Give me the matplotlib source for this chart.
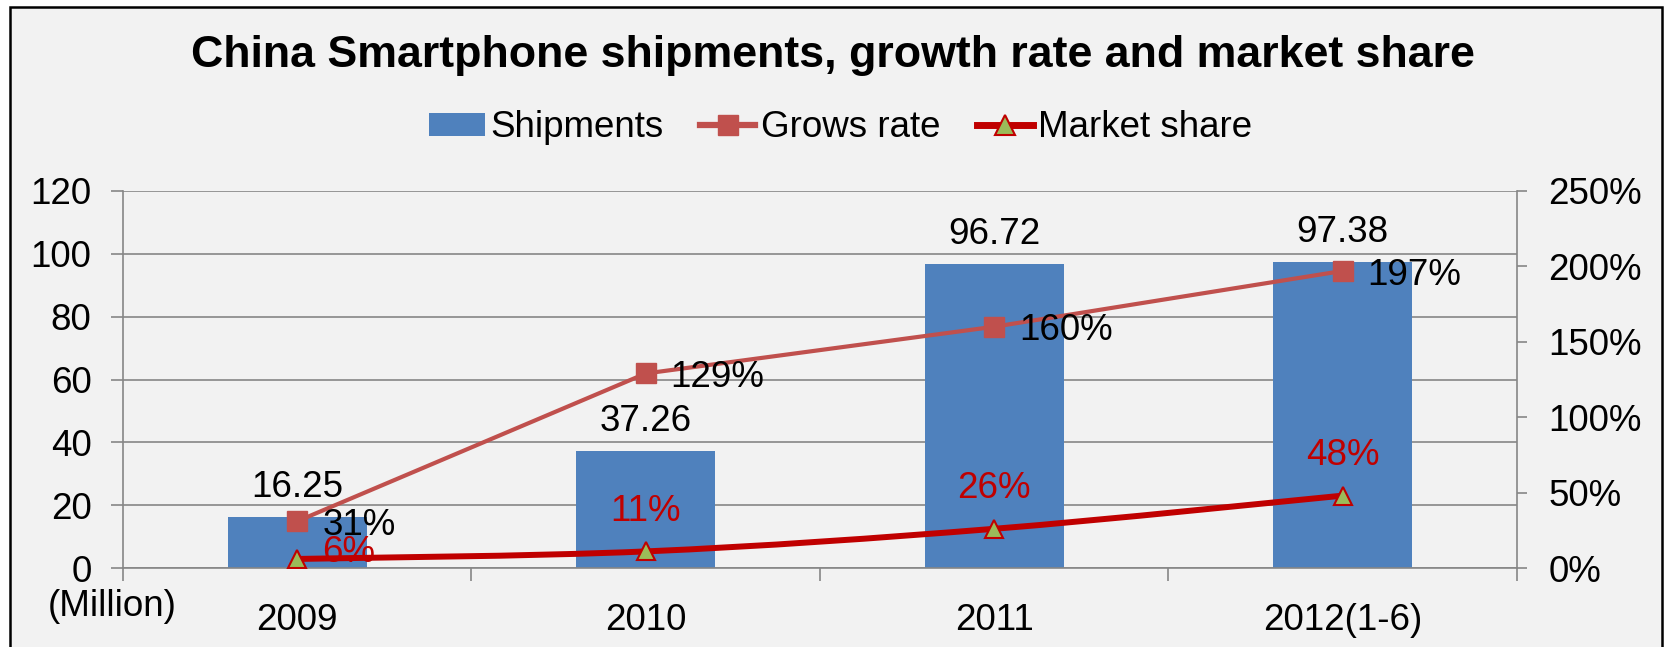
import matplotlib
matplotlib.use("Agg")
import matplotlib.pyplot as plt
from matplotlib.path import Path
from matplotlib.patches import PathPatch, Rectangle, Patch
from matplotlib.lines import Line2D

plt.rcParams['font.family'] = ['Liberation Sans', 'DejaVu Sans']

# ---------------- data ----------------
categories = ["2009", "2010", "2011", "2012(1-6)"]
shipments = [16.25, 37.26, 96.72, 97.38]          # million units (left axis)
growth_rate = [31, 129, 160, 197]                  # % (right axis)
market_share = [6, 11, 26, 48]                     # % (right axis)
left_ticks = [0, 20, 40, 60, 80, 100, 120]
right_ticks = [0, 50, 100, 150, 200, 250]

# ---------------- style ----------------
BAR_C = "#4F81BD"
GROW_C = "#C0504D"
SHARE_C = "#C00000"
TRI_FILL = "#9BBB59"
GRID_C = "#868686"
BG = "#F2F2F2"
FS = 26.5

fig = plt.figure(figsize=(16.65, 6.47), dpi=100, facecolor="white")
fig.patches.append(Rectangle((10 / 1665, -0.1), (1662 - 10) / 1665, 1.1 - 7 / 647,
                             transform=fig.transFigure, facecolor=BG,
                             edgecolor="black", lw=1.8, zorder=-10))

ax = fig.add_axes([123 / 1665, 1 - 568 / 647, (1517 - 123) / 1665, (568 - 191) / 647])
ax.set_facecolor("none")
ax2 = ax.twinx()
ax2.set_facecolor("none")

x = list(range(len(categories)))

# bars
ax.bar(x, shipments, width=0.4, color=BAR_C, zorder=2)
ax.set_xlim(-0.5, len(categories) - 0.5)
ax.set_ylim(0, 120)
ax.set_yticks(left_ticks)
ax.set_yticklabels([str(t) for t in left_ticks], fontsize=FS)
ax.yaxis.grid(True, color=GRID_C, lw=1.2)
ax.set_axisbelow(True)
ax.set_xticks(x)
ax.set_xticklabels(categories, fontsize=FS)
ax.set_xticks([i - 0.5 for i in range(len(categories) + 1)], minor=True)
ax.tick_params(axis="x", which="major", length=0, pad=25)
ax.tick_params(axis="x", which="minor", length=9.4, width=1.2, color=GRID_C, direction="out")
ax.tick_params(axis="y", length=8.6, width=1.2, color=GRID_C, pad=14)
for s in ["top", "right"]:
    ax.spines[s].set_visible(False)
for s in ["left", "bottom"]:
    ax.spines[s].set_color(GRID_C)
    ax.spines[s].set_linewidth(1.2)

# right axis
ax2.set_ylim(0, 250)
ax2.set_yticks(right_ticks)
ax2.set_yticklabels([f"{t}%" for t in right_ticks], fontsize=FS)
ax2.tick_params(axis="y", length=7.5, width=1.2, color=GRID_C, pad=15)
for s in ["top", "left", "bottom"]:
    ax2.spines[s].set_visible(False)
ax2.spines["right"].set_color(GRID_C)
ax2.spines["right"].set_linewidth(1.2)

# growth line
ax2.plot(x, growth_rate, color=GROW_C, lw=3, marker="s", ms=14,
         mfc=GROW_C, mec=GROW_C, zorder=3)

# smoothed market-share line (Catmull-Rom -> cubic Bezier in data coords)
pts = list(zip(x, market_share))
verts = [pts[0]]
codes = [Path.MOVETO]
n = len(pts)
for i in range(n - 1):
    p0 = pts[i - 1] if i > 0 else pts[i]
    p1 = pts[i]
    p2 = pts[i + 1]
    p3 = pts[i + 2] if i + 2 < n else pts[i + 1]
    c1 = (p1[0] + (p2[0] - p0[0]) / 6, p1[1] + (p2[1] - p0[1]) / 6)
    c2 = (p2[0] - (p3[0] - p1[0]) / 6, p2[1] - (p3[1] - p1[1]) / 6)
    verts += [c1, c2, p2]
    codes += [Path.CURVE4] * 3
ax2.add_patch(PathPatch(Path(verts, codes), facecolor="none", edgecolor=SHARE_C,
                        lw=4.3, zorder=4, capstyle="round"))
ax2.plot(x, market_share, ls="none", marker="^", ms=13.5, mfc=TRI_FILL,
         mec=SHARE_C, mew=1.5, zorder=5)

# data labels
for xi, v in zip(x, shipments):
    ax.annotate(f"{v:.2f}", (xi, v), xytext=(0, 21), textcoords="offset points",
                ha="center", va="center", fontsize=FS, color="black", zorder=6)
for xi, v in zip(x, growth_rate):
    ax2.annotate(f"{v}%", (xi, v), xytext=(18, -3), textcoords="offset points",
                 ha="left", va="center", fontsize=FS, color="black", zorder=6)
share_offsets = [(37, 5), (0, 29), (0, 29), (0, 29)]
for xi, v, off in zip(x, market_share, share_offsets):
    ax2.annotate(f"{v}%", (xi, v), xytext=off, textcoords="offset points",
                 ha="center", va="center", fontsize=FS, color=SHARE_C, zorder=3.5)

# axis unit label
fig.text(112 / 1665, 1 - 607 / 647, "(Million)", ha="center", va="center", fontsize=FS)

# title
fig.text(0.5, 1 - 55 / 647, "China Smartphone shipments, growth rate and market share",
         ha="center", va="center", fontsize=32.2, fontweight="bold")

# legend
handles = [
    Patch(facecolor=BAR_C, edgecolor="none"),
    Line2D([], [], color=GROW_C, lw=4.5, marker="s", ms=14, mfc=GROW_C, mec=GROW_C),
    Line2D([], [], color=SHARE_C, lw=5, marker="^", ms=14, mfc=TRI_FILL, mec=SHARE_C, mew=1.5),
]
fig.legend(handles, ["Shipments", "Grows rate", "Market share"], loc="center",
           bbox_to_anchor=(0.505, 1 - 128 / 647), ncol=3, frameon=False, fontsize=FS,
           handlelength=1.5, handleheight=0.55, handletextpad=0.15, columnspacing=1.0,
           numpoints=1)

fig.savefig("out.png", dpi=100, facecolor="white")
